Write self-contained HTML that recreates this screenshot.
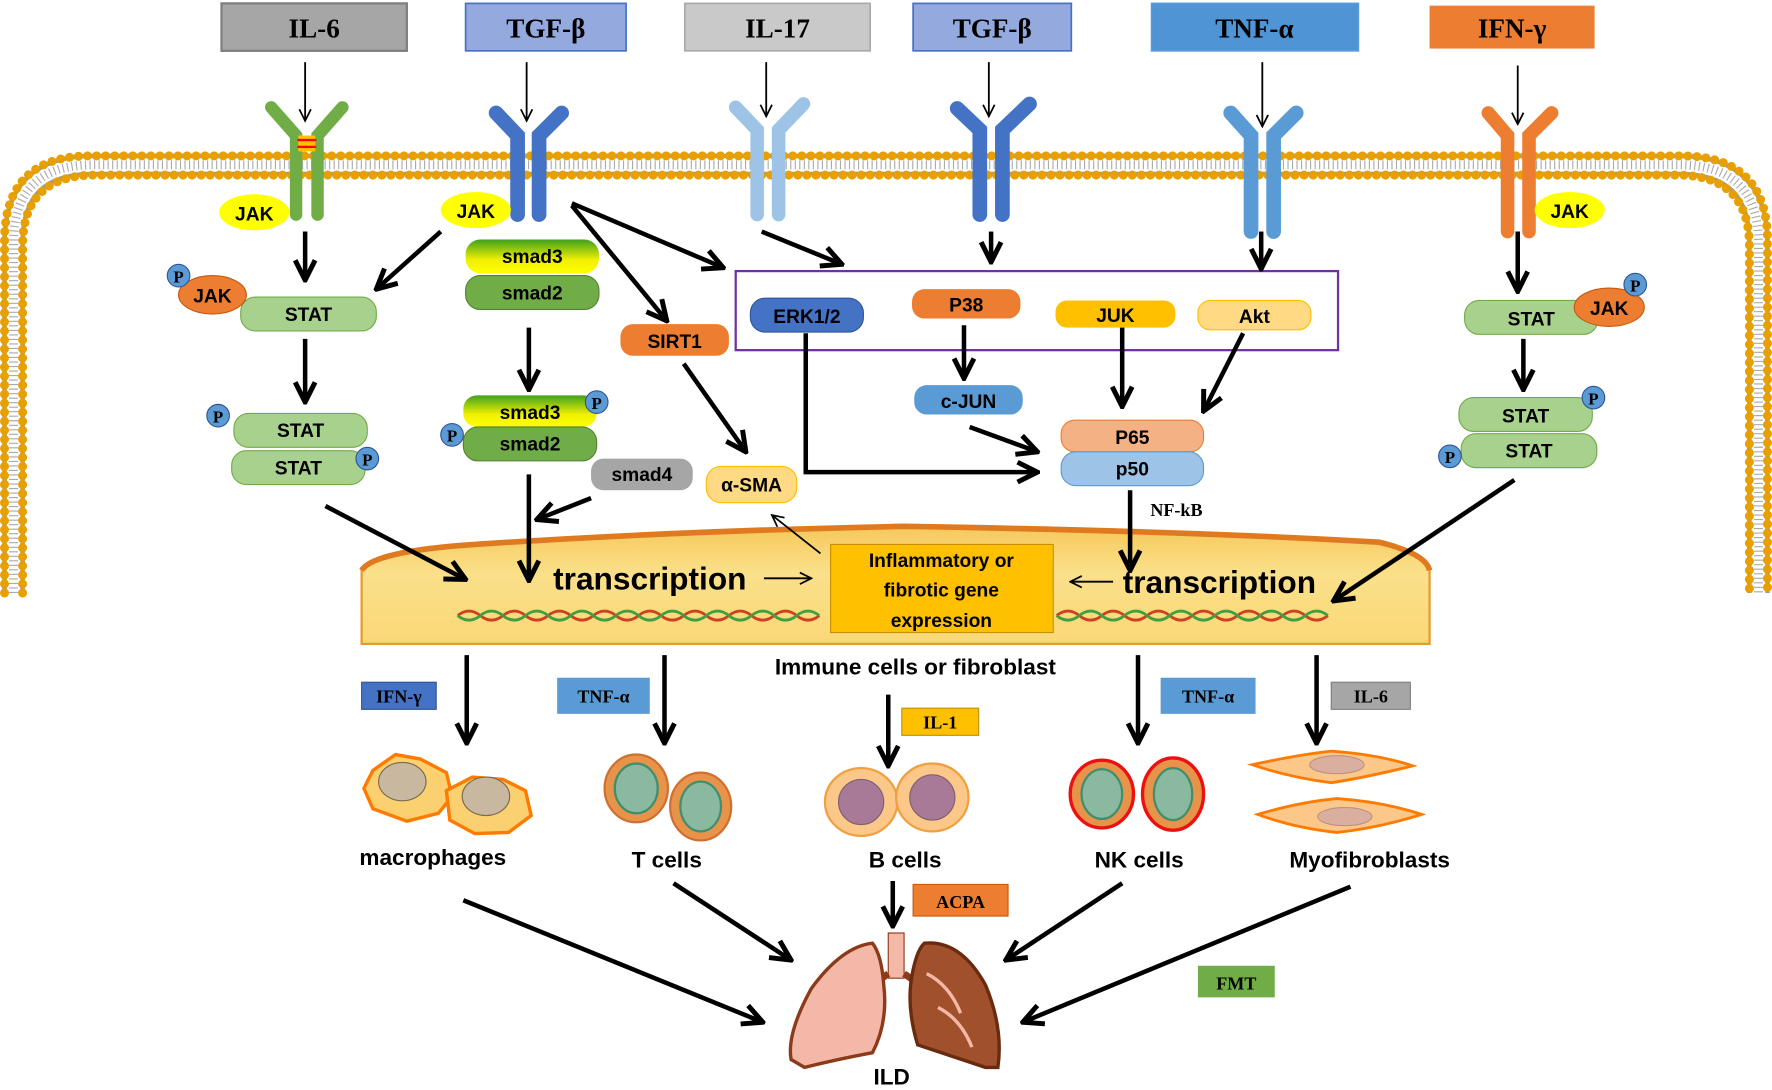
<!DOCTYPE html>
<html><head><meta charset="utf-8"><style>
html,body{margin:0;padding:0;background:#fff;overflow:hidden}
svg{display:block}
.t{font-family:"Liberation Sans",sans-serif;font-weight:bold;fill:#000;text-anchor:middle}
.s{font-family:"Liberation Serif",serif;font-weight:bold;fill:#000;text-anchor:middle}
.a{stroke:#000;stroke-width:4;fill:none;marker-end:url(#h)}
.b{stroke:#000;stroke-width:1.6;fill:none;marker-end:url(#h2)}
</style></head><body>
<svg width="1772" height="1090" viewBox="0 0 1568 965" preserveAspectRatio="none" xmlns="http://www.w3.org/2000/svg">
<defs>
<marker id="h" viewBox="0 0 10 10" refX="9" refY="5" markerWidth="5.5" markerHeight="5.5" orient="auto" markerUnits="strokeWidth"><path d="M1 1 L9 5 L1 9" fill="none" stroke="#000" stroke-width="2"/></marker>
<marker id="h2" viewBox="0 0 10 10" refX="9" refY="5" markerWidth="8" markerHeight="8" orient="auto" markerUnits="strokeWidth"><path d="M1 1 L9 5 L1 9" fill="none" stroke="#000" stroke-width="1.2"/></marker>
<linearGradient id="sm3" x1="0" y1="0" x2="0" y2="1"><stop offset="0" stop-color="#3fa11e"/><stop offset="0.6" stop-color="#f0f000"/><stop offset="1" stop-color="#ffff00"/></linearGradient>
<linearGradient id="nuc" x1="0" y1="0" x2="0" y2="1"><stop offset="0" stop-color="#f6c85a"/><stop offset="0.4" stop-color="#fbe08a"/><stop offset="1" stop-color="#f9d877"/></linearGradient>
</defs>
<!-- membrane -->
<path d="M12 525 V215 Q12 146 82 146 H1486 Q1556 146 1556 215 V525" fill="none" stroke="#999" stroke-width="20"/>
<path d="M12 525 V215 Q12 146 82 146 H1486 Q1556 146 1556 215 V525" fill="none" stroke="#fff" stroke-width="12"/>
<path d="M12 525 V215 Q12 146 82 146 H1486 Q1556 146 1556 215 V525" fill="none" stroke="#aaa" stroke-width="8" stroke-dasharray="1 3"/>
<path d="M4 525 V213 Q4 138 80 138 H1488 Q1564 138 1564 213 V525" fill="none" stroke="#e8a000" stroke-width="8" stroke-linecap="round" stroke-dasharray="0 8"/>
<path d="M20 525 V218 Q20 155 84 155 H1484 Q1548 155 1548 218 V525" fill="none" stroke="#e8a000" stroke-width="8" stroke-linecap="round" stroke-dasharray="0 8"/>
<!-- nucleus -->
<path d="M320 505 Q330 488 420 482 Q600 470 800 466 Q1050 470 1220 480 Q1262 490 1265 505 V570 H320 Z" fill="url(#nuc)" stroke="#e89a30" stroke-width="2"/>
<path d="M320 505 Q330 488 420 482 Q600 470 800 466 Q1050 470 1220 480 Q1262 490 1265 505" fill="none" stroke="#e07a20" stroke-width="5"/>
<!-- DNA -->
<path d="M405 545 q10 -8 20 0 t20 0 t20 0 t20 0 t20 0 t20 0 t20 0 t20 0 t20 0 t20 0 t20 0 t20 0 t20 0 t20 0 t20 0 t20 0" fill="none" stroke="#d04020" stroke-width="2.5"/>
<path d="M405 545 q10 8 20 0 t20 0 t20 0 t20 0 t20 0 t20 0 t20 0 t20 0 t20 0 t20 0 t20 0 t20 0 t20 0 t20 0 t20 0 t20 0" fill="none" stroke="#40a040" stroke-width="2.5"/>
<path d="M935 545 q10 -8 20 0 t20 0 t20 0 t20 0 t20 0 t20 0 t20 0 t20 0 t20 0 t20 0 t20 0 t20 0" fill="none" stroke="#d04020" stroke-width="2.5"/>
<path d="M935 545 q10 8 20 0 t20 0 t20 0 t20 0 t20 0 t20 0 t20 0 t20 0 t20 0 t20 0 t20 0 t20 0" fill="none" stroke="#40a040" stroke-width="2.5"/>
<!-- top boxes -->
<rect x="196" y="3" width="164" height="42" fill="#a6a6a6" stroke="#7f7f7f" stroke-width="2"/><text class="s" x="278" y="33" font-size="24">IL-6</text>
<rect x="412" y="3" width="142" height="42" fill="#94a9de" stroke="#4472c4" stroke-width="1.5"/><text class="s" x="483" y="33" font-size="24">TGF-β</text>
<rect x="606" y="3" width="164" height="42" fill="#c9c9c9" stroke="#aaa" stroke-width="1.5"/><text class="s" x="688" y="33" font-size="24">IL-17</text>
<rect x="808" y="3" width="140" height="42" fill="#94a9de" stroke="#4472c4" stroke-width="1.5"/><text class="s" x="878" y="33" font-size="24">TGF-β</text>
<rect x="1019" y="3" width="183" height="42" fill="#4f94d4" stroke="#5b9bd5" stroke-width="1.5"/><text class="s" x="1110" y="33" font-size="24">TNF-α</text>
<rect x="1265" y="5" width="146" height="38" fill="#ed7d31"/><text class="s" x="1338" y="33" font-size="24">IFN-γ</text>
<!-- receptors -->
<g stroke-linecap="round">
<g stroke="#70ad47"><path d="M262 190 V120 L240 95 M281 190 V120 L303 95" fill="none" stroke-width="11"/></g>
<rect x="264" y="120" width="15" height="14" fill="#ffc000"/><line x1="264" y1="124" x2="279" y2="124" stroke="#f00" stroke-width="2"/><line x1="264" y1="130" x2="279" y2="130" stroke="#f00" stroke-width="2"/>
<g stroke="#4472c4"><path d="M458 190 V120 L439 100 M477 190 V120 L497 100" fill="none" stroke-width="13"/></g>
<g stroke="#9dc3e6"><path d="M670 190 V115 L651 95 M689 190 V115 L711 92" fill="none" stroke-width="12"/></g>
<g stroke="#4472c4"><path d="M867 190 V115 L847 96 M887 190 V115 L911 92" fill="none" stroke-width="13"/></g>
<g stroke="#5b9bd5"><path d="M1107 205 V120 L1089 100 M1127 205 V120 L1147 100" fill="none" stroke-width="13"/></g>
<g stroke="#ed7d31"><path d="M1334 205 V120 L1317 100 M1353 205 V120 L1373 100" fill="none" stroke-width="12"/></g>
</g>
<!-- thin arrows -->
<path class="b" d="M270 55 V107"/><path class="b" d="M466 55 V107"/><path class="b" d="M678 55 V103"/><path class="b" d="M875 55 V103"/><path class="b" d="M1117 55 V112"/><path class="b" d="M1343 58 V110"/>
<!-- JAK -->
<ellipse cx="225" cy="188" rx="31" ry="16" fill="#ffff00"/><text class="t" x="225" y="195" font-size="17">JAK</text>
<ellipse cx="421" cy="186" rx="31" ry="16" fill="#ffff00"/><text class="t" x="421" y="193" font-size="17">JAK</text>
<ellipse cx="1389" cy="186" rx="31" ry="16" fill="#ffff00"/><text class="t" x="1389" y="193" font-size="17">JAK</text>
<!-- left STAT -->
<rect x="213" y="263" width="120" height="30" rx="13" fill="#a9d18e" stroke="#70ad47"/><text class="t" x="273" y="284" font-size="17">STAT</text>
<ellipse cx="188" cy="261" rx="30" ry="17" fill="#ed7d31" stroke="#c55a11"/><text class="t" x="188" y="268" font-size="17">JAK</text>
<circle cx="158" cy="244" r="10" fill="#5b9bd5" stroke="#2f5597"/><text class="s" x="158" y="250" font-size="15">P</text>
<rect x="207" y="366" width="118" height="30" rx="13" fill="#a9d18e" stroke="#70ad47"/><text class="t" x="266" y="387" font-size="17">STAT</text>
<rect x="205" y="399" width="118" height="30" rx="13" fill="#a9d18e" stroke="#70ad47"/><text class="t" x="264" y="420" font-size="17">STAT</text>
<circle cx="193" cy="368" r="10" fill="#5b9bd5" stroke="#2f5597"/><text class="s" x="193" y="374" font-size="15">P</text>
<circle cx="325" cy="406" r="10" fill="#5b9bd5" stroke="#2f5597"/><text class="s" x="325" y="412" font-size="15">P</text>
<!-- smads -->
<rect x="412" y="212" width="118" height="30" rx="13" fill="url(#sm3)"/><text class="t" x="471" y="233" font-size="17">smad3</text>
<rect x="412" y="244" width="118" height="30" rx="13" fill="#70ad47" stroke="#548235"/><text class="t" x="471" y="265" font-size="17">smad2</text>
<rect x="410" y="350" width="118" height="28" rx="12" fill="url(#sm3)"/><text class="t" x="469" y="371" font-size="17">smad3</text>
<rect x="410" y="378" width="118" height="30" rx="13" fill="#70ad47" stroke="#548235"/><text class="t" x="469" y="399" font-size="17">smad2</text>
<circle cx="528" cy="356" r="10" fill="#5b9bd5" stroke="#2f5597"/><text class="s" x="528" y="362" font-size="15">P</text>
<circle cx="400" cy="385" r="10" fill="#5b9bd5" stroke="#2f5597"/><text class="s" x="400" y="391" font-size="15">P</text>
<rect x="523" y="406" width="90" height="28" rx="11" fill="#a6a6a6"/><text class="t" x="568" y="426" font-size="17">smad4</text>
<rect x="625" y="413" width="80" height="32" rx="13" fill="#ffd983" stroke="#ffc000"/><text class="t" x="665" y="435" font-size="17">α-SMA</text>
<rect x="549" y="287" width="96" height="28" rx="11" fill="#ed7d31"/><text class="t" x="597" y="308" font-size="17">SIRT1</text>
<!-- MAPK box -->
<rect x="651" y="240" width="533" height="70" fill="none" stroke="#7030a0" stroke-width="2"/>
<rect x="664" y="264" width="100" height="30" rx="13" fill="#4472c4" stroke="#2f5597"/><text class="t" x="714" y="286" font-size="17">ERK1/2</text>
<rect x="807" y="256" width="96" height="26" rx="11" fill="#ed7d31"/><text class="t" x="855" y="276" font-size="17">P38</text>
<rect x="934" y="266" width="106" height="24" rx="10" fill="#ffc000"/><text class="t" x="987" y="285" font-size="17">JUK</text>
<rect x="1060" y="266" width="100" height="26" rx="11" fill="#ffd983" stroke="#ffc000"/><text class="t" x="1110" y="286" font-size="17">Akt</text>
<rect x="809" y="341" width="96" height="26" rx="11" fill="#5b9bd5"/><text class="t" x="857" y="361" font-size="17">c-JUN</text>
<rect x="939" y="372" width="126" height="28" rx="12" fill="#f4b183" stroke="#ed7d31"/><text class="t" x="1002" y="393" font-size="17">P65</text>
<rect x="939" y="400" width="126" height="30" rx="13" fill="#9dc3e6" stroke="#5b9bd5"/><text class="t" x="1002" y="421" font-size="17">p50</text>
<text class="s" x="1041" y="457" font-size="16">NF-kB</text>
<!-- right STAT -->
<rect x="1296" y="266" width="118" height="30" rx="13" fill="#a9d18e" stroke="#70ad47"/><text class="t" x="1355" y="288" font-size="17">STAT</text>
<ellipse cx="1424" cy="272" rx="31" ry="17" fill="#ed7d31" stroke="#c55a11"/><text class="t" x="1424" y="279" font-size="17">JAK</text>
<circle cx="1447" cy="252" r="10" fill="#5b9bd5" stroke="#2f5597"/><text class="s" x="1447" y="258" font-size="15">P</text>
<rect x="1291" y="352" width="118" height="30" rx="13" fill="#a9d18e" stroke="#70ad47"/><text class="t" x="1350" y="374" font-size="17">STAT</text>
<rect x="1293" y="384" width="120" height="30" rx="13" fill="#a9d18e" stroke="#70ad47"/><text class="t" x="1353" y="405" font-size="17">STAT</text>
<circle cx="1410" cy="352" r="10" fill="#5b9bd5" stroke="#2f5597"/><text class="s" x="1410" y="358" font-size="15">P</text>
<circle cx="1283" cy="404" r="10" fill="#5b9bd5" stroke="#2f5597"/><text class="s" x="1283" y="410" font-size="15">P</text>
<!-- thick arrows -->
<path class="a" d="M270 205 V248"/><path class="a" d="M390 205 L333 256"/>
<path class="a" d="M270 300 V356"/>
<path class="a" d="M506 180 L640 237"/><path class="a" d="M506 182 L590 284"/>
<path class="a" d="M674 205 L745 234"/><path class="a" d="M877 205 V232"/><path class="a" d="M1116 205 V238"/>
<path class="a" d="M1343 205 V258"/><path class="a" d="M1348 300 V345"/>
<path class="a" d="M468 290 V345"/>
<path class="a" d="M853 288 V335"/><path class="a" d="M993 290 V360"/><path class="a" d="M1100 295 L1065 364"/>
<path class="a" d="M858 378 L918 400"/><path class="a" d="M713 295 V418 H918"/>
<path class="a" d="M605 322 L660 400"/>
<path class="a" d="M468 420 V514"/><path class="a" d="M523 441 L475 460"/>
<path class="a" d="M288 448 L412 513"/><path class="a" d="M1340 425 L1180 532"/><path class="a" d="M1000 434 V505"/>
<path class="b" d="M676 512 H718"/><path class="b" d="M985 515 H947"/><path class="b" d="M726 490 L683 456"/>
<text class="t" x="575" y="522" font-size="28">transcription</text>
<text class="t" x="1079" y="525" font-size="28">transcription</text>
<rect x="735" y="482" width="197" height="78" fill="#ffc000" stroke="#c89000"/>
<text class="t" x="833" y="502" font-size="17">Inflammatory or</text><text class="t" x="833" y="528" font-size="17">fibrotic gene</text><text class="t" x="833" y="555" font-size="17">expression</text>
<text class="t" x="810" y="597" font-size="20">Immune cells or fibroblast</text>
<!-- down arrows -->
<path class="a" d="M413 580 V658"/><path class="a" d="M588 580 V658"/><path class="a" d="M786 615 V678"/><path class="a" d="M1007 580 V658"/><path class="a" d="M1165 580 V658"/>
<rect x="320" y="604" width="66" height="24" fill="#4472c4" stroke="#2f5597"/><text class="s" x="353" y="622" font-size="16">IFN-γ</text>
<rect x="493" y="600" width="82" height="32" fill="#5b9bd5"/><text class="s" x="534" y="622" font-size="16">TNF-α</text>
<rect x="798" y="627" width="68" height="24" fill="#ffc000" stroke="#bf9000"/><text class="s" x="832" y="645" font-size="16">IL-1</text>
<rect x="1027" y="600" width="84" height="32" fill="#5b9bd5"/><text class="s" x="1069" y="622" font-size="16">TNF-α</text>
<rect x="1178" y="604" width="70" height="24" fill="#a6a6a6" stroke="#7f7f7f"/><text class="s" x="1213" y="622" font-size="16">IL-6</text>
<!-- cells -->
<g stroke="#ff7a00" stroke-width="3" fill="#fbd070">
<path d="M330 682 L350 668 L372 672 L395 684 L400 705 L388 720 L360 727 L330 716 L322 698 Z"/>
<path d="M395 700 L418 688 L445 690 L465 700 L470 722 L450 737 L420 738 L398 726 Z"/>
</g>
<ellipse cx="356" cy="692" rx="21" ry="17" fill="#c9b8a0" stroke="#7a6a50"/><ellipse cx="430" cy="705" rx="21" ry="17" fill="#c9b8a0" stroke="#7a6a50"/>
<ellipse cx="563" cy="698" rx="28" ry="30" fill="#e8934a" stroke="#d07030" stroke-width="2"/><ellipse cx="563" cy="698" rx="19" ry="22" fill="#8ab9a0" stroke="#3f8f6f" stroke-width="2"/>
<ellipse cx="620" cy="714" rx="27" ry="30" fill="#e8934a" stroke="#d07030" stroke-width="2"/><ellipse cx="620" cy="714" rx="18" ry="22" fill="#8ab9a0" stroke="#3f8f6f" stroke-width="2"/>
<ellipse cx="762" cy="710" rx="32" ry="30" fill="#fbc88a" stroke="#f0a040" stroke-width="2"/><ellipse cx="762" cy="710" rx="20" ry="20" fill="#a87a98" stroke="#806070"/>
<ellipse cx="825" cy="706" rx="32" ry="30" fill="#fbc88a" stroke="#f0a040" stroke-width="2"/><ellipse cx="825" cy="706" rx="20" ry="20" fill="#a87a98" stroke="#806070"/>
<ellipse cx="975" cy="703" rx="28" ry="30" fill="#e8934a" stroke="#ee1010" stroke-width="3"/><ellipse cx="975" cy="703" rx="18" ry="22" fill="#8ab9a0" stroke="#3f8f6f" stroke-width="2"/>
<ellipse cx="1038" cy="703" rx="27" ry="32" fill="#e8934a" stroke="#ee1010" stroke-width="3"/><ellipse cx="1038" cy="703" rx="17" ry="23" fill="#8ab9a0" stroke="#3f8f6f" stroke-width="2"/>
<path d="M1108 677 Q1150 668 1178 665 Q1220 668 1250 678 Q1210 688 1178 693 Q1140 688 1108 677 Z" fill="#fbc88a" stroke="#ff7a00" stroke-width="2.5"/><ellipse cx="1183" cy="677" rx="24" ry="8" fill="#d9b0a0" stroke="#c09080"/>
<path d="M1113 721 Q1150 710 1183 707 Q1225 710 1258 721 Q1220 733 1183 737 Q1145 733 1113 721 Z" fill="#fbc88a" stroke="#ff7a00" stroke-width="2.5"/><ellipse cx="1190" cy="723" rx="24" ry="8" fill="#d9b0a0" stroke="#c09080"/>
<text class="t" x="383" y="766" font-size="20">macrophages</text><text class="t" x="590" y="768" font-size="20">T cells</text><text class="t" x="801" y="768" font-size="20">B cells</text><text class="t" x="1008" y="768" font-size="20">NK cells</text><text class="t" x="1212" y="768" font-size="20">Myofibroblasts</text>
<!-- lung arrows -->
<path class="a" d="M410 797 L675 905"/><path class="a" d="M596 782 L700 850"/><path class="a" d="M790 780 V820"/><path class="a" d="M993 782 L890 850"/><path class="a" d="M1195 785 L905 905"/>
<rect x="808" y="783" width="84" height="28" fill="#ed7d31" stroke="#c55a11"/><text class="s" x="850" y="804" font-size="16">ACPA</text>
<rect x="1060" y="855" width="68" height="28" fill="#70ad47"/><text class="s" x="1094" y="876" font-size="16">FMT</text>
<!-- lungs -->
<rect x="786" y="826" width="14" height="40" fill="#f4b8a8" stroke="#8b3a1a"/>
<path d="M786 862 Q772 872 768 882 M800 862 Q815 872 820 880" stroke="#8b3a1a" stroke-width="6" fill="none"/>
<path d="M772 835 Q745 838 718 875 Q696 915 700 938 L712 945 Q740 938 772 932 Q786 905 782 872 Q780 845 772 835 Z" fill="#f4b8a8" stroke="#8b3a1a" stroke-width="3"/>
<path d="M818 835 Q850 832 872 872 Q888 910 883 945 L872 945 Q842 935 812 925 Q803 895 806 870 Q810 842 818 835 Z" fill="#a0502a" stroke="#6a2a10" stroke-width="3"/>
<path d="M820 862 Q840 872 850 897 M830 892 Q850 902 860 927" stroke="#f4b8a8" stroke-width="3" fill="none"/>
<text class="t" x="789" y="960" font-size="20">ILD</text>
</svg>
</body></html>
